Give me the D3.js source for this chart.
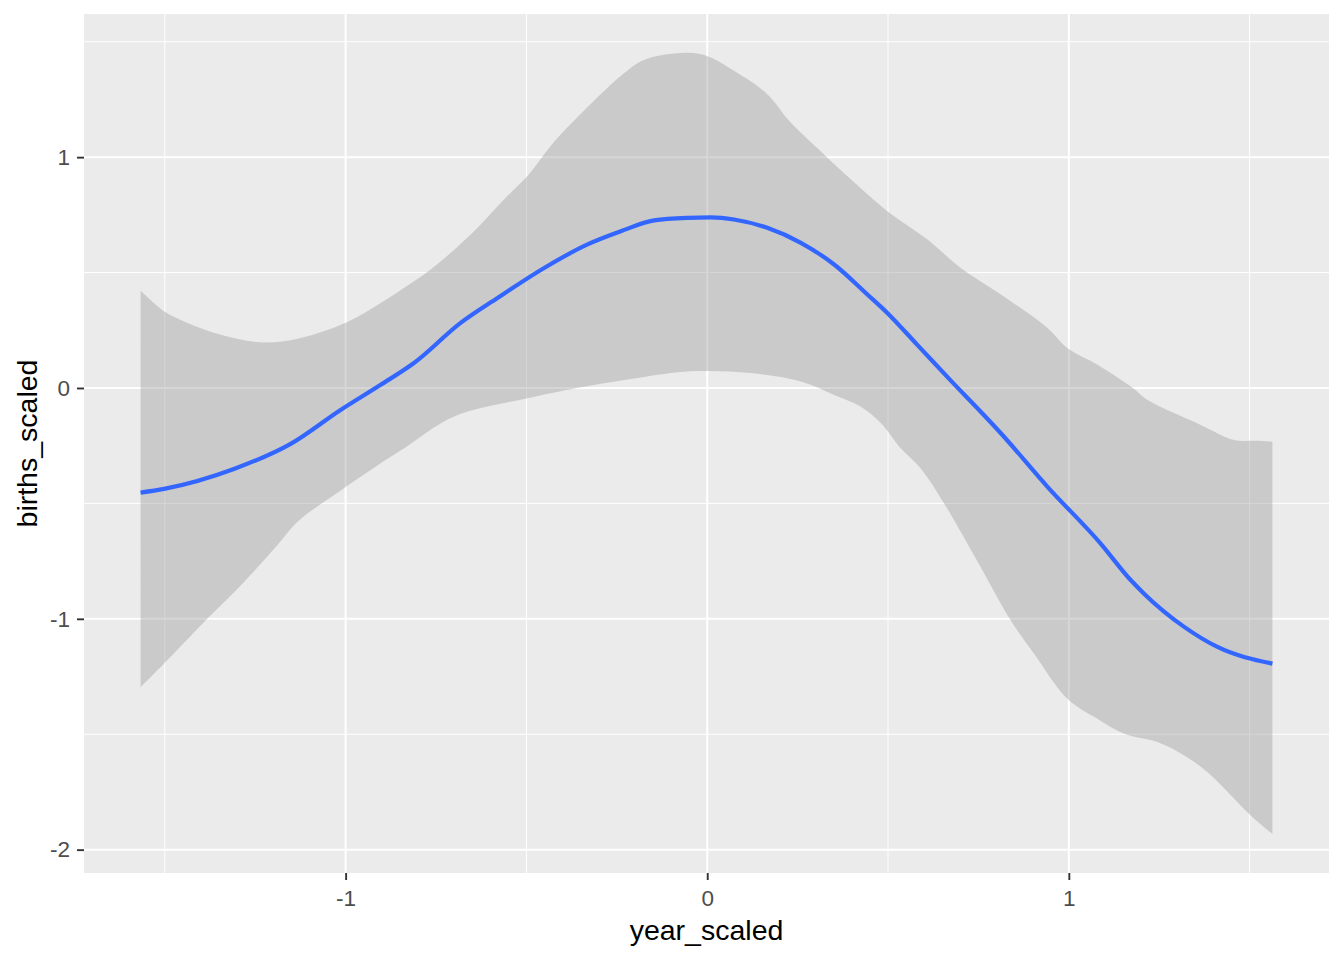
<!DOCTYPE html>
<html>
<head>
<meta charset="utf-8">
<script src="https://cdn.jsdelivr.net/npm/d3@7"></script>
<style>
  html, body { margin: 0; padding: 0; background: #ffffff; }
  svg { display: block; }
  text { font-family: "Liberation Sans", Arial, sans-serif; }
</style>
</head>
<body>
<svg id="chart" width="1344" height="960"></svg>
<script>
// ---- Data ----
const fitX = [-1.567, -1.502, -1.309, -1.152, -1.014, -0.903, -0.811, -0.682, -0.580, -0.451,
              -0.331, -0.239, -0.147, -0.055, 0.010, 0.074, 0.166, 0.259, 0.351, 0.443,
              0.498, 0.581, 0.673, 0.765, 0.812, 0.941, 1.088, 1.171, 1.208, 1.319, 1.411, 1.563];
const fitY = [-0.453, -0.437, -0.351, -0.242, -0.095, 0.014, 0.108, 0.282, 0.390, 0.520,
              0.622, 0.679, 0.726, 0.737, 0.739, 0.730, 0.694, 0.629, 0.535, 0.405,
              0.325, 0.187, 0.033, -0.117, -0.196, -0.428, -0.674, -0.832, -0.891, -1.035, -1.122, -1.194];

const upperX = [-1.567, -1.502, -1.437, -1.345, -1.226, -1.124, -0.995, -0.903, -0.838, -0.765,
                -0.654, -0.562, -0.497, -0.433, -0.387, -0.285, -0.239, -0.175, -0.073, -0.009,
                0.074, 0.166, 0.231, 0.323, 0.397, 0.498, 0.609, 0.701, 0.812, 0.941,
                0.996, 1.079, 1.171, 1.217, 1.365, 1.457, 1.522, 1.563];
const upperY = [0.422, 0.332, 0.282, 0.231, 0.197, 0.217, 0.286, 0.368, 0.434, 0.513,
                0.665, 0.817, 0.918, 1.048, 1.128, 1.287, 1.352, 1.421, 1.451, 1.442,
                1.374, 1.273, 1.150, 1.012, 0.904, 0.766, 0.643, 0.520, 0.405, 0.260,
                0.173, 0.101, 0.007, -0.051, -0.160, -0.225, -0.229, -0.233];

const lowerX = [-1.567, -1.502, -1.382, -1.281, -1.189, -1.133, -1.032, -0.903, -0.838, -0.700,
                -0.497, -0.377, -0.193, -0.046, 0.120, 0.259, 0.351, 0.424, 0.480, 0.535,
                0.590, 0.655, 0.756, 0.839, 0.904, 0.996, 1.079, 1.153, 1.245, 1.319,
                1.383, 1.503, 1.563];
const lowerY = [-1.296, -1.194, -0.999, -0.840, -0.681, -0.579, -0.464, -0.326, -0.261, -0.124,
                -0.044, -0.005, 0.043, 0.072, 0.065, 0.028, -0.030, -0.080, -0.152, -0.261,
                -0.348, -0.500, -0.775, -1.006, -1.151, -1.346, -1.433, -1.498, -1.534, -1.592,
                -1.664, -1.852, -1.932];

const xTicks = [-1, 0, 1];
const yTicks = [-2, -1, 0, 1];
const xMinor = [-1.5, -0.5, 0.5, 1.5];
const yMinor = [-1.5, -0.5, 0.5, 1.5];
const xTitle = "year_scaled";
const yTitle = "births_scaled";

// ---- Layout ----
const panel = { left: 84, right: 1329, top: 14, bottom: 873 };
const svg = d3.select("#chart");

function expand(ext, f) { const r = ext[1] - ext[0]; return [ext[0] - r * f, ext[1] + r * f]; }
const xAll = fitX.concat(upperX, lowerX);
const yAll = fitY.concat(upperY, lowerY);
const x = d3.scaleLinear().domain(expand(d3.extent(xAll), 0.05)).range([panel.left, panel.right]);
const y = d3.scaleLinear().domain(expand(d3.extent(yAll), 0.05)).range([panel.bottom, panel.top]);

// panel background
svg.append("rect")
  .attr("x", panel.left).attr("y", panel.top)
  .attr("width", panel.right - panel.left).attr("height", panel.bottom - panel.top)
  .attr("fill", "#EBEBEB");

const grid = svg.append("g");
// minor grid
grid.selectAll(".vminor").data(xMinor).join("line")
  .attr("x1", d => x(d)).attr("x2", d => x(d))
  .attr("y1", panel.top).attr("y2", panel.bottom)
  .attr("stroke", "#fff").attr("stroke-width", 1);
grid.selectAll(".hminor").data(yMinor).join("line")
  .attr("y1", d => y(d)).attr("y2", d => y(d))
  .attr("x1", panel.left).attr("x2", panel.right)
  .attr("stroke", "#fff").attr("stroke-width", 1);
// major grid
grid.selectAll(".vmajor").data(xTicks).join("line")
  .attr("x1", d => x(d)).attr("x2", d => x(d))
  .attr("y1", panel.top).attr("y2", panel.bottom)
  .attr("stroke", "#fff").attr("stroke-width", 2);
grid.selectAll(".hmajor").data(yTicks).join("line")
  .attr("y1", d => y(d)).attr("y2", d => y(d))
  .attr("x1", panel.left).attr("x2", panel.right)
  .attr("stroke", "#fff").attr("stroke-width", 2);

// ribbon
const upperPts = upperX.map((v, i) => [x(v), y(upperY[i])]);
const lowerPts = lowerX.map((v, i) => [x(v), y(lowerY[i])]).reverse();
const lineGen = d3.line().curve(d3.curveCatmullRom.alpha(0.5));
const upPath = lineGen(upperPts);
const lowPath = lineGen(lowerPts);
svg.append("path")
  .attr("d", upPath + "L" + lowPath.slice(1) + "Z")
  .attr("fill", "#999999").attr("fill-opacity", 0.4);

// fit line
svg.append("path")
  .datum(fitX.map((v, i) => [v, fitY[i]]))
  .attr("d", d3.line().x(d => x(d[0])).y(d => y(d[1])).curve(d3.curveMonotoneX))
  .attr("fill", "none").attr("stroke", "#3366FF").attr("stroke-width", 4.2)
  .attr("stroke-linejoin", "round");

// axes
const xAxis = svg.append("g").attr("transform", `translate(0,${panel.bottom})`)
  .call(d3.axisBottom(x).tickValues(xTicks).tickFormat(d => String(d)).tickSize(7).tickPadding(10));
const yAxis = svg.append("g").attr("transform", `translate(${panel.left},0)`)
  .call(d3.axisLeft(y).tickValues(yTicks).tickFormat(d => String(d)).tickSize(7).tickPadding(7));
[xAxis, yAxis].forEach(g => {
  g.select(".domain").remove();
  g.selectAll(".tick line").attr("stroke", "#333333").attr("stroke-width", 1.9);
  g.selectAll(".tick text").attr("fill", "#4D4D4D")
    .style("font-size", "22.5px").style("font-family", '"Liberation Sans", Arial, sans-serif');
});

// titles
svg.append("text")
  .attr("x", (panel.left + panel.right) / 2).attr("y", 940)
  .attr("text-anchor", "middle").attr("fill", "#000")
  .style("font-size", "28.5px").text(xTitle);
svg.append("text")
  .attr("transform", `translate(37,${(panel.top + panel.bottom) / 2}) rotate(-90)`)
  .attr("text-anchor", "middle").attr("fill", "#000")
  .style("font-size", "28.5px").text(yTitle);
</script>
</body>
</html>
